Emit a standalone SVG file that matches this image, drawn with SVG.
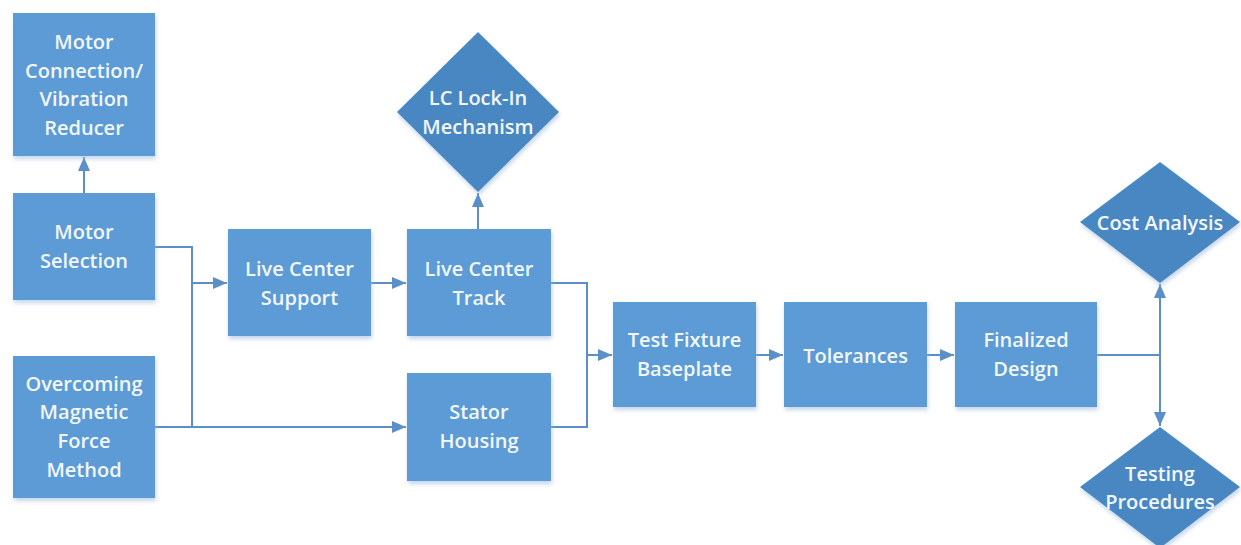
<svg xmlns="http://www.w3.org/2000/svg" width="1241" height="545" viewBox="0 0 1241 545">
<style>
.box{fill:#5B9BD5;}
.dia{fill:#4A87C3;}
.lbl{font-family:"Open Sans","Liberation Sans",sans-serif;font-size:20px;font-weight:600;fill:#F2F7FC;text-anchor:middle;dominant-baseline:central;}
.ln{fill:none;stroke:#5B8FC9;stroke-width:2;}
</style>
<defs>
<filter id="sh" x="-10%" y="-10%" width="125%" height="125%">
<feDropShadow dx="1" dy="3" stdDeviation="2" flood-color="#9DBBDD" flood-opacity="0.6"/>
</filter>
<marker id="ah" viewBox="0 0 14 12" refX="14" refY="6" markerWidth="14" markerHeight="12" markerUnits="userSpaceOnUse" orient="auto">
<path d="M0,0 L14,6 L0,12 Z" fill="#5B8FC9"/>
</marker>
</defs>
<rect width="1241" height="545" fill="#FFFFFF"/>
<g id="connectors">
<path class="ln" d="M84,193 V157" marker-end="url(#ah)"/>
<path class="ln" d="M478,229 V193" marker-end="url(#ah)"/>
<path class="ln" d="M155,247 H192 V427"/>
<path class="ln" d="M192,283 H227" marker-end="url(#ah)"/>
<path class="ln" d="M155,427 H406" marker-end="url(#ah)"/>
<path class="ln" d="M371,283 H406" marker-end="url(#ah)"/>
<path class="ln" d="M551,283 H587 V427 H551"/>
<path class="ln" d="M587,355 H612" marker-end="url(#ah)"/>
<path class="ln" d="M756,355 H783" marker-end="url(#ah)"/>
<path class="ln" d="M927,355 H954" marker-end="url(#ah)"/>
<path class="ln" d="M1097,355 H1160"/>
<path class="ln" d="M1160,355 V284" marker-end="url(#ah)"/>
<path class="ln" d="M1160,355 V426" marker-end="url(#ah)"/>
</g>
<g id="motor-connection">
<rect class="box" x="13" y="13" width="142" height="143" filter="url(#sh)"/>
<text class="lbl" x="84" y="41">Motor</text>
<text class="lbl" x="84" y="70">Connection/</text>
<text class="lbl" x="84" y="98">Vibration</text>
<text class="lbl" x="84" y="127">Reducer</text>
</g>
<g id="motor-selection">
<rect class="box" x="13" y="193" width="142" height="107" filter="url(#sh)"/>
<text class="lbl" x="84" y="231">Motor</text>
<text class="lbl" x="84" y="260">Selection</text>
</g>
<g id="overcoming">
<rect class="box" x="13" y="356" width="142" height="142" filter="url(#sh)"/>
<text class="lbl" x="84" y="383">Overcoming</text>
<text class="lbl" x="84" y="411">Magnetic</text>
<text class="lbl" x="84" y="440">Force</text>
<text class="lbl" x="84" y="469">Method</text>
</g>
<g id="live-center-support">
<rect class="box" x="228" y="229" width="143" height="107" filter="url(#sh)"/>
<text class="lbl" x="299.5" y="268">Live Center</text>
<text class="lbl" x="299.5" y="297">Support</text>
</g>
<g id="live-center-track">
<rect class="box" x="407" y="229" width="144" height="107" filter="url(#sh)"/>
<text class="lbl" x="479" y="268">Live Center</text>
<text class="lbl" x="479" y="297">Track</text>
</g>
<g id="lc-lock-in">
<polygon class="dia" points="478,32 559,112 478,192 397,112" filter="url(#sh)"/>
<text class="lbl" x="478" y="97">LC Lock-In</text>
<text class="lbl" x="478" y="126">Mechanism</text>
</g>
<g id="stator-housing">
<rect class="box" x="407" y="373" width="144" height="108" filter="url(#sh)"/>
<text class="lbl" x="479" y="411">Stator</text>
<text class="lbl" x="479" y="440">Housing</text>
</g>
<g id="test-fixture">
<rect class="box" x="613" y="302" width="143" height="105" filter="url(#sh)"/>
<text class="lbl" x="684.5" y="339">Test Fixture</text>
<text class="lbl" x="684.5" y="368">Baseplate</text>
</g>
<g id="tolerances">
<rect class="box" x="784" y="302" width="143" height="105" filter="url(#sh)"/>
<text class="lbl" x="855.5" y="355">Tolerances</text>
</g>
<g id="finalized-design">
<rect class="box" x="955" y="302" width="142" height="105" filter="url(#sh)"/>
<text class="lbl" x="1026" y="339">Finalized</text>
<text class="lbl" x="1026" y="368">Design</text>
</g>
<g id="cost-analysis">
<polygon class="dia" points="1160,162 1240,222 1160,283 1080,222" filter="url(#sh)"/>
<text class="lbl" x="1160" y="222">Cost Analysis</text>
</g>
<g id="testing-procedures">
<polygon class="dia" points="1160,427 1240,487 1160,548 1080,487" filter="url(#sh)"/>
<text class="lbl" x="1160" y="473">Testing</text>
<text class="lbl" x="1160" y="501">Procedures</text>
</g>
</svg>
